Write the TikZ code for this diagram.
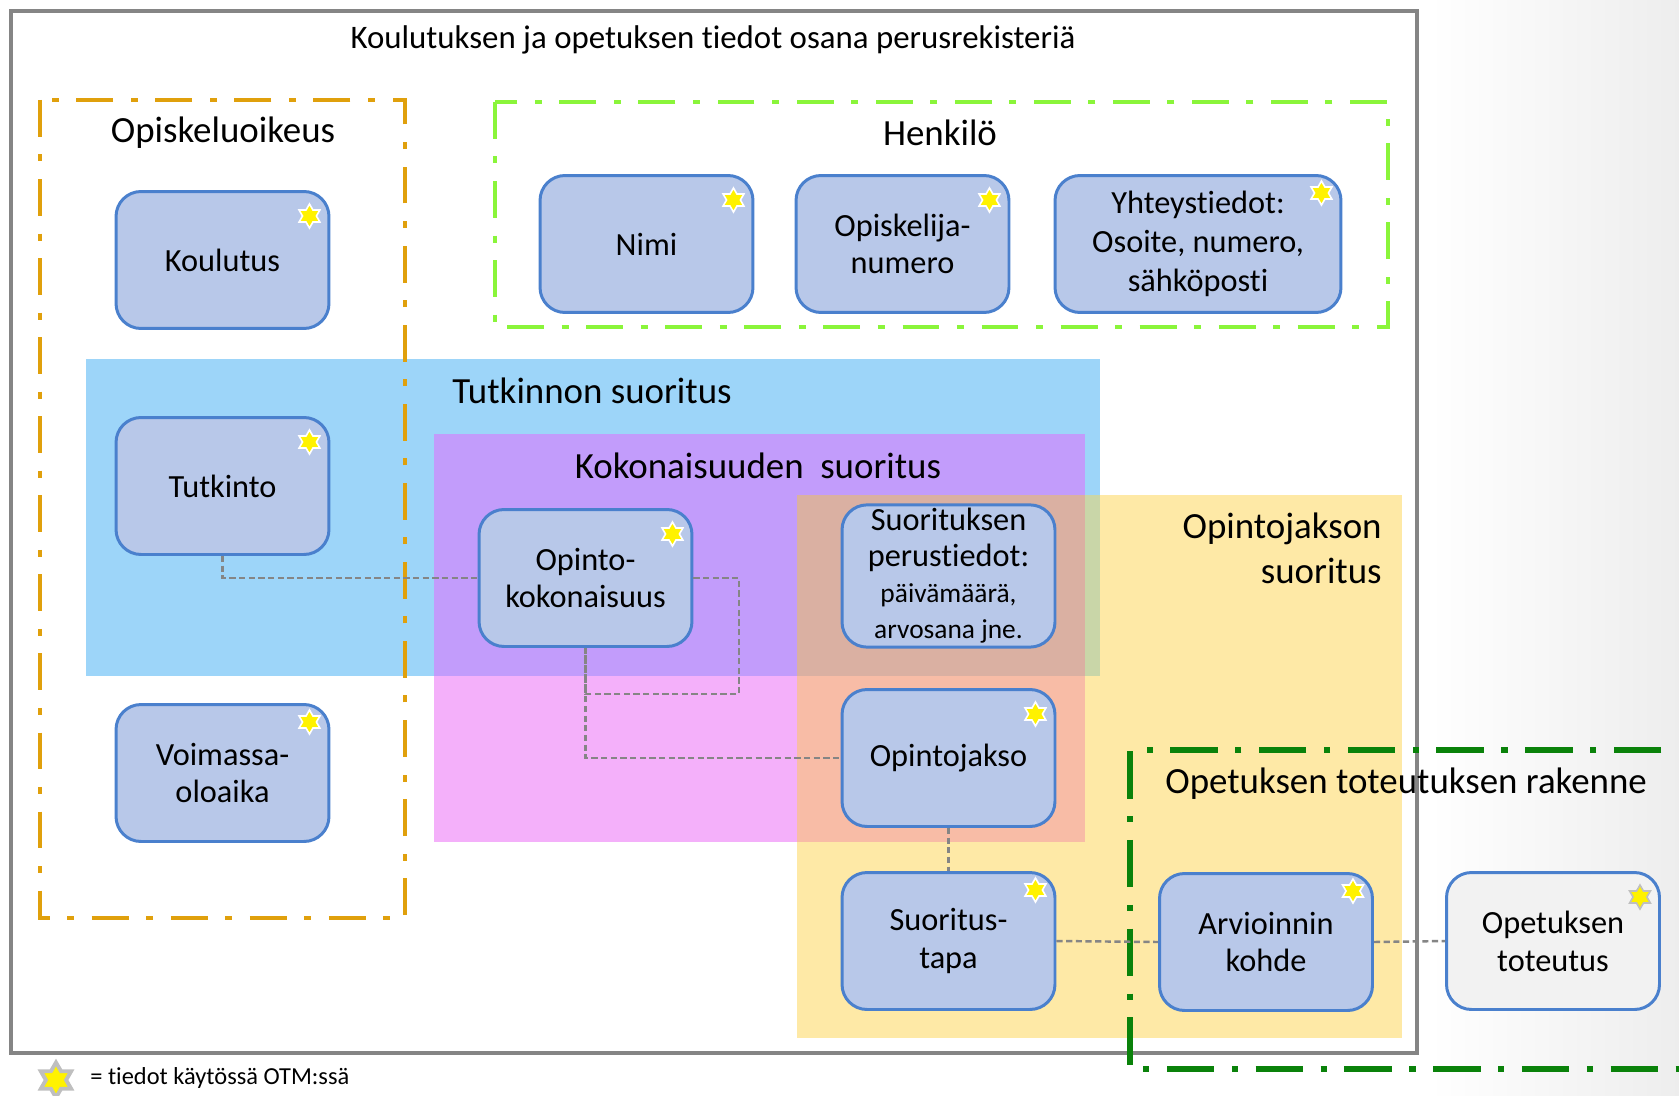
\documentclass[tikz,border=0pt]{standalone}
\usepackage{fontspec}
\setmainfont{Carlito}[Ligatures=NoCommon]
\usetikzlibrary{calc,shapes.geometric}
\definecolor{tut_blue}{HTML}{9DD5F9}
\definecolor{kok_pink}{HTML}{F4B0FA}
\definecolor{kok_purple}{HTML}{C29CFB}
\definecolor{jak_yellow}{HTML}{FEE9A6}
\definecolor{jak_rose}{HTML}{DAB0A2}
\definecolor{jak_salmon}{HTML}{F8BCA6}
\definecolor{jak_olive}{HTML}{C9D6A8}
\definecolor{box_fill}{HTML}{B8C8E9}
\definecolor{box_line}{HTML}{4A80CD}
\definecolor{oik_orange}{HTML}{E0A00C}
\definecolor{henk_green}{HTML}{8AF53A}
\definecolor{tot_green}{HTML}{0A820A}
\definecolor{frame_gray}{HTML}{858585}

\tikzset{
	box/.style={draw=box_line, fill=box_fill, line width=1.7pt, rounded corners=0.5cm, minimum width=4.26cm, minimum height=2.74cm, align=center, font=\fontsize{18.4}{21.5}\selectfont, inner sep=2pt},
	otmstar/.style={star, star points=6, star point ratio=1.73, fill=yellow, draw=white, line width=0.9pt, minimum size=0.48cm, inner sep=0pt},
	conn/.style={draw=frame_gray, line width=1.4pt, dash pattern=on 3.5pt off 2pt},
	lbl/.style={font=\fontsize{21}{25.5}\selectfont, inner sep=0pt},
	dashdot/.style={line width=2.8pt, dash pattern=on 21pt off 10pt on 4pt off 10pt}
}

\begin{document}
\begin{tikzpicture}[x=0.02cm, y=-0.02cm]
	\useasboundingbox (0,0) rectangle (1679,1095);
	\fill[white] (0,0) rectangle (1679,1095);
	\shade[left color=white, right color=black!7] (1430,0) rectangle (1679,1095);
	\fill[tut_blue] (86,359) rectangle (1100,676);
	\fill[kok_pink] (434,434) rectangle (1085,842);
	\fill[kok_purple] (434,434) rectangle (1085,676);
	\fill[jak_yellow] (797,495) rectangle (1402,1038);
	\fill[jak_rose] (797,495) rectangle (1085,676);
	\fill[jak_salmon] (797,676) rectangle (1085,842);
	\fill[jak_olive] (1085,495) rectangle (1100,676);
	\draw[oik_orange, dashdot] (40,100) rectangle (405,918);
	\draw[henk_green, dashdot] (495,102) rectangle (1388,327);
	\draw[frame_gray, line width=2.3pt] (11,11) rectangle (1417,1053);
	\draw[tot_green, line width=3.2pt, dash pattern=on 27pt off 10pt on 3.5pt off 10pt] (1750,750) -- (1130,750) -- (1130,1069) -- (1750,1069);
	\node[font=\fontsize{18.7}{22}\selectfont] (title) at (713,40) {Koulutuksen ja opetuksen tiedot osana perusrekisteriä};
	\node[lbl] (oik_lbl) at (223,133) {Opiskeluoikeus};
	\node[lbl] (henk_lbl) at (940,133) {Henkilö};
	\node[lbl] (tut_lbl) at (592,391) {Tutkinnon suoritus};
	\node[lbl] (kok_lbl) at (758,466) {Kokonaisuuden\ \ suoritus};
	\node[lbl, align=right, anchor=east] (jak_lbl) at (1382,548) {Opintojakson\\suoritus};
	\node[lbl, anchor=west] (tot_lbl) at (1165,784) {Opetuksen toteutuksen rakenne};
	\node[box] (koulutus) at (222.5,260) {Koulutus};
	\node[box] (tutkinto) at (222.5,486) {Tutkinto};
	\node[box] (voimassa) at (222.5,773) {Voimassa-\\oloaika};
	\node[box] (nimi) at (646.5,244) {Nimi};
	\node[box] (opnro) at (902.5,244) {Opiskelija-\\numero};
	\node[box, minimum width=5.72cm, font=\fontsize{18.4}{22}\selectfont] (yhteys) at (1198,244) {Yhteystiedot:\\Osoite, numero,\\sähköposti};
	\node[box] (opkok) at (585.5,578) {Opinto-\\kokonaisuus};
	\node[box, font=\fontsize{18.4}{20.5}\selectfont] (perust) at (948.5,576) {Suorituksen\\perustiedot:\\{\fontsize{15.6}{17.5}\selectfont päivämäärä,}\\{\fontsize{15.6}{17.5}\selectfont arvosana jne.}};
	\node[box] (opjakso) at (948.5,758) {Opintojakso};
	\node[box] (suortapa) at (948.5,941) {Suoritus-\\tapa};
	\node[box] (arvkohde) at (1266,942) {Arvioinnin\\kohde};
	\node[box, fill=black!5] (optot) at (1553,941) {Opetuksen\\toteutus};
	\coordinate (kok_loop) at (739,694);
	\draw[conn] (tutkinto.south) |- (opkok.west);
	\draw[conn] (opkok.east) -| (kok_loop) -| (opkok.south);
	\draw[conn] (opkok.south) |- (opjakso.west);
	\draw[conn] (opjakso.south) -- (suortapa.north);
	\draw[conn] (suortapa.east) -- (arvkohde.west);
	\draw[conn] (arvkohde.east) -- (optot.west);
	\node[otmstar] (s_koulutus) at ($(koulutus.north east)+(-21,26)$) {};
	\node[otmstar] (s_tutkinto) at ($(tutkinto.north east)+(-21,26)$) {};
	\node[otmstar] (s_voimassa) at ($(voimassa.north east)+(-21,19)$) {};
	\node[otmstar] (s_nimi) at ($(nimi.north east)+(-21,26)$) {};
	\node[otmstar] (s_opnro) at ($(opnro.north east)+(-21,26)$) {};
	\node[otmstar] (s_yhteys) at ($(yhteys.north east)+(-21,19)$) {};
	\node[otmstar] (s_opkok) at ($(opkok.north east)+(-21,26)$) {};
	\node[otmstar] (s_opjakso) at ($(opjakso.north east)+(-21,26)$) {};
	\node[otmstar] (s_suortapa) at ($(suortapa.north east)+(-21,19)$) {};
	\node[otmstar] (s_arvkohde) at ($(arvkohde.north east)+(-21,19)$) {};
	\node[otmstar, draw=black!25] (s_optot) at ($(optot.north east)+(-21,26)$) {};
	\node[otmstar, draw=black!25, line width=2.2pt, minimum size=0.7cm] (s_legend) at (56,1080) {};
	\node[anchor=west, font=\fontsize{13.9}{16}\selectfont, inner sep=0pt] (legend) at (90,1078) {= tiedot käytössä OTM:ssä};
\end{tikzpicture}
\end{document}
